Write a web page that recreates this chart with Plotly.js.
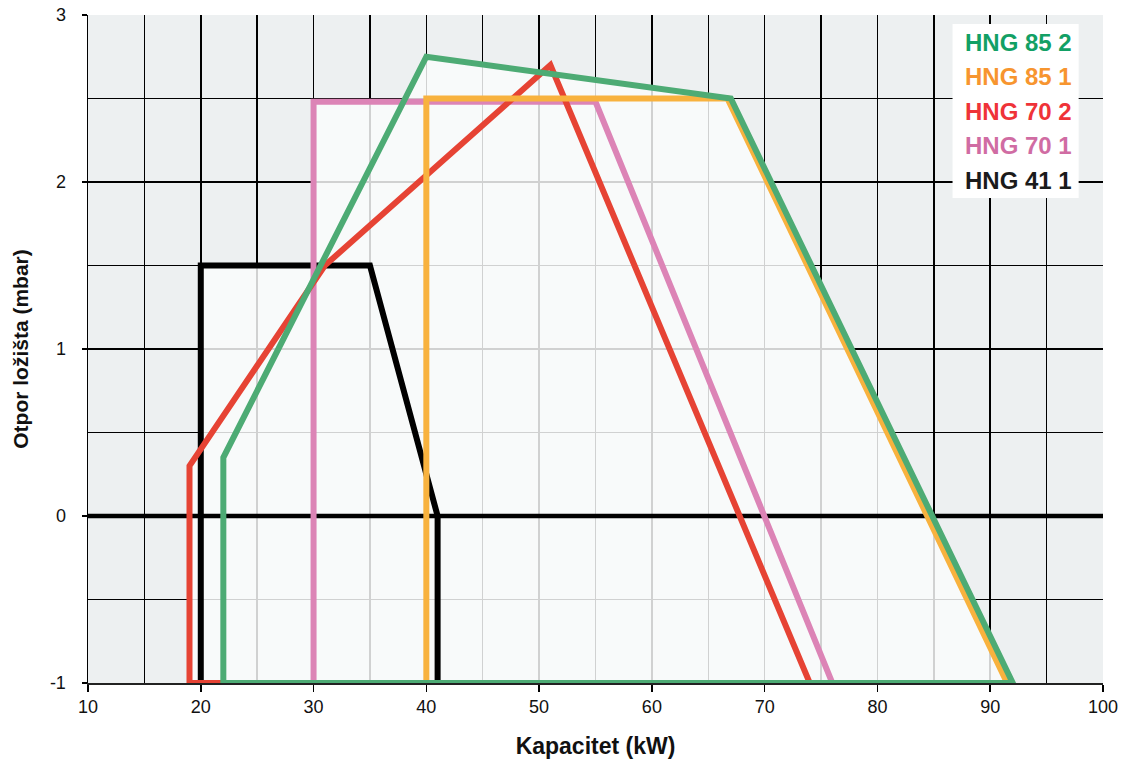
<!DOCTYPE html>
<html>
<head>
<meta charset="utf-8">
<script src="https://cdn.plot.ly/plotly-3.0.1.min.js"></script>
<style>html,body{margin:0;padding:0;background:#fff;}#chart{width:1126px;height:760px;}</style>
</head>
<body>
<div id="chart"></div>
<script>
// Operating-range polygons (kW, mbar)
const hng41_1_x = [20, 20, 35, 41, 41, 20];
const hng41_1_y = [-1, 1.5, 1.5, 0, -1, -1];
const hng70_1_x = [30, 30, 55, 76, 30];
const hng70_1_y = [-1, 2.48, 2.48, -1, -1];
const hng70_2_x = [19, 19, 31, 51, 74, 19];
const hng70_2_y = [-1, 0.3, 1.5, 2.7, -1, -1];
const hng85_1_x = [40, 40, 66.7, 91.5, 40];
const hng85_1_y = [-1, 2.5, 2.5, -1, -1];
const hng85_2_x = [22, 22, 40, 67, 92, 22];
const hng85_2_y = [-1, 0.35, 2.75, 2.5, -1, -1];

const seriesNames = ['HNG 85 2', 'HNG 85 1', 'HNG 70 2', 'HNG 70 1', 'HNG 41 1'];
const lineColors = {'HNG 85 2': '#4dab74', 'HNG 85 1': '#f8b23e', 'HNG 70 2': '#e64334', 'HNG 70 1': '#dc84b6', 'HNG 41 1': '#000000'};
const legendColors = {'HNG 85 2': '#12a065', 'HNG 85 1': '#f7952f', 'HNG 70 2': '#ef3338', 'HNG 70 1': '#d06ca3', 'HNG 41 1': '#1b1b1b'};
const xTicks = [10, 20, 30, 40, 50, 60, 70, 80, 90, 100];
const yTicks = [-1, 0, 1, 2, 3];
const xRange = [10, 100];
const yRange = [-1, 3];

const polys = {
  'HNG 85 2': [hng85_2_x, hng85_2_y],
  'HNG 85 1': [hng85_1_x, hng85_1_y],
  'HNG 70 2': [hng70_2_x, hng70_2_y],
  'HNG 70 1': [hng70_1_x, hng70_1_y],
  'HNG 41 1': [hng41_1_x, hng41_1_y]
};

// union fill: one path with all polygons
const fx = [], fy = [];
seriesNames.forEach((n, i) => {
  if (i) { fx.push(null); fy.push(null); }
  fx.push(...polys[n][0]); fy.push(...polys[n][1]);
});

const traces = [];
traces.push({x: fx, y: fy, mode: 'lines', fill: 'toself', fillcolor: 'rgba(250,251,251,0.83)',
  line: {width: 0}, hoverinfo: 'skip', showlegend: false, connectgaps: false});
traces.push({x: xRange, y: [0, 0], mode: 'lines', line: {color: '#000', width: 4.5}, hoverinfo: 'skip', showlegend: false});

const drawOrder = ['HNG 41 1', 'HNG 70 1', 'HNG 70 2', 'HNG 85 1', 'HNG 85 2'];
drawOrder.forEach(n => {
  traces.push({x: polys[n][0], y: polys[n][1], mode: 'lines', name: n,
    line: {color: lineColors[n], width: 6, shape: 'linear'}, showlegend: false});
});

const lx = 87.6;
const ly = [2.834, 2.629, 2.423, 2.217, 2.012];
const annotations = seriesNames.map((n, i) => ({
  x: lx, y: ly[i], xref: 'x', yref: 'y', xanchor: 'left', yanchor: 'middle', showarrow: false,
  text: '<b>' + n + '</b>', font: {family: 'Liberation Sans, Arial, sans-serif', size: 24, color: legendColors[n]}
}));

const layout = {
  width: 1126, height: 760,
  margin: {l: 88, r: 23, t: 15, b: 77},
  paper_bgcolor: '#ffffff',
  plot_bgcolor: '#edf0f1',
  font: {family: 'Liberation Sans, Arial, sans-serif', color: '#1a1a1a', size: 18},
  showlegend: false,
  xaxis: {
    range: xRange, tickvals: xTicks, ticktext: xTicks.map(String),
    showgrid: true, gridcolor: '#000', gridwidth: 1.5,
    minor: {dtick: 5, tick0: 0, showgrid: true, gridcolor: '#000', gridwidth: 1.5, ticks: ''},
    zeroline: false, showline: true, linecolor: '#222', linewidth: 1.5,
    ticks: 'outside', ticklen: 7, tickwidth: 1.5, tickcolor: '#000',
    tickfont: {size: 18, color: '#111'},
    title: {text: '<b>Kapacitet (kW)</b>', font: {size: 23, color: '#111'}, standoff: 22},
    fixedrange: true
  },
  yaxis: {
    range: yRange, tickvals: yTicks, ticktext: yTicks.map(String),
    showgrid: true, gridcolor: '#000', gridwidth: 1.5,
    minor: {dtick: 0.5, tick0: 0, showgrid: true, gridcolor: '#000', gridwidth: 1.5, ticks: ''},
    zeroline: false, showline: true, linecolor: '#000', linewidth: 1.5,
    ticks: 'outside', ticklen: 5, tickwidth: 1.5, tickcolor: '#000',
    ticklabelstandoff: 12,
    tickfont: {size: 18, color: '#111'},
    title: {text: '<b>Otpor ložišta (mbar)</b>', font: {size: 21, color: '#111'}, standoff: 15},
    fixedrange: true
  },
  shapes: [{type: 'rect', xref: 'x', yref: 'y', x0: 86.66, x1: 97.84, y0: 1.904, y1: 2.946,
    fillcolor: '#ffffff', line: {width: 0}, layer: 'above'}],
  annotations: annotations
};

Plotly.newPlot('chart', traces, layout, {displayModeBar: false, staticPlot: true});
</script>
</body>
</html>
